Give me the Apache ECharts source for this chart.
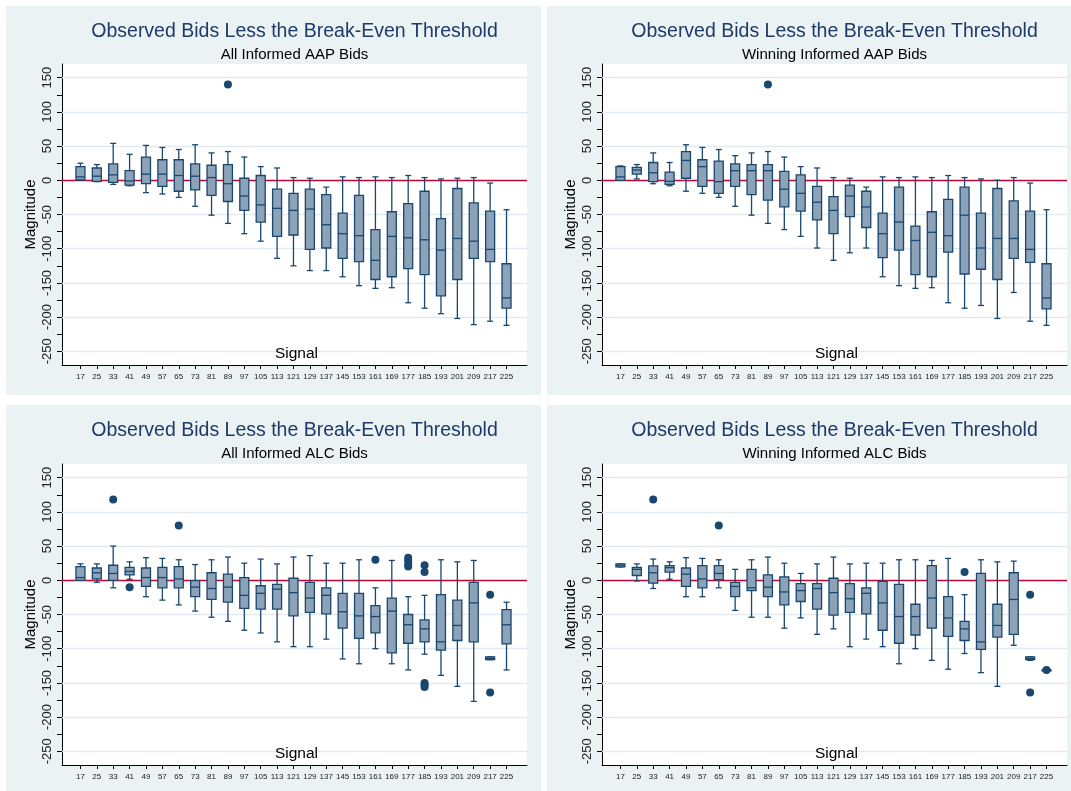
<!DOCTYPE html>
<html>
<head>
<meta charset="utf-8">
<script src="https://cdn.jsdelivr.net/npm/echarts@6/dist/echarts.min.js"></script>
<style>html,body{margin:0;padding:0;background:#fff}#c{width:1071px;height:791px}</style>
</head>
<body>
<div id="c"></div>
<script>
// ---------------- data ----------------
const signals = [17,25,33,41,49,57,65,73,81,89,97,105,113,121,129,137,145,153,161,169,177,185,193,201,209,217,225];
const yTickValues = [-250,-225,-200,-175,-150,-125,-100,-75,-50,-25,0,25,50,75,100,125,150];
const yLabelValues = [-250,-200,-150,-100,-50,0,50,100,150];
const gridValues = [-250,-200,-150,-100,-50,50,100,150];
const titleText = 'Observed Bids Less the Break-Even Threshold';
const subtitles = ['All Informed AAP Bids','Winning Informed AAP Bids','All Informed ALC Bids','Winning Informed ALC Bids'];

// Panel 1: All Informed AAP Bids
const aapAllLow  = [0,-2,-6,-8,-18,-20,-25,-38,-51,-63,-78,-89,-114,-125,-132,-132,-141,-154,-158,-157,-179,-187,-195,-202,-211,-206,-212];
const aapAllQ1   = [0.5,-1.5,-3,-7,-5,-9,-16,-14,-22,-31,-44,-61,-82,-80,-101,-99,-114,-119,-145,-141,-129,-138,-169,-145,-114,-119,-187];
const aapAllMed  = [5,6,8,-1,9,9,7,6,4,-5,-23,-36,-41,-44,-42,-65,-78,-81,-117,-82,-84,-87,-102,-85,-89,-101,-172];
const aapAllQ3   = [20,18,24,14,34,30,30,24,22,23,3,7,-13,-19,-13,-21,-48,-22,-72,-46,-34,-16,-56,-12,-33,-45,-122];
const aapAllHigh = [25,23,54,38,51,48,45,52,40,42,34,20,18,4,3,-10,5,4,5,4,7,4,2,3,4,-4,-43];
const aapAllOut  = [[89,140]];

// Panel 2: Winning Informed AAP Bids
const aapWinLow  = [0,2,-5,-8,-16,-19,-25,-38,-51,-63,-72,-82,-99,-117,-106,-99,-141,-154,-158,-157,-179,-187,-183,-202,-164,-206,-212];
const aapWinQ1   = [0,9,-2,-6,3,-9,-19,-9,-21,-29,-39,-45,-58,-78,-53,-69,-113,-102,-138,-141,-105,-137,-130,-145,-114,-120,-188];
const aapWinMed  = [5,15,11,-1.5,29,20,-2,14,14,14,-13,-19,-32,-44,-23,-39,-78,-61,-88,-76,-81,-51,-99,-85,-85,-101,-172];
const aapWinQ3   = [20,19,26,12,42,30,28,24,23,23,13,8,-9,-24,-7,-16,-48,-10,-67,-46,-28,-10,-48,-12,-30,-45,-122];
const aapWinHigh = [21,23,40,26,52,48,45,36,40,42,34,20,18,4,3,-10,5,4,5,4,7,4,2,0,4,-4,-43];
const aapWinOut  = [[89,140]];

// Panel 3: All Informed ALC Bids
const alcAllLow  = [0,-3,-11,1.5,-24,-29,-36,-45,-54,-60,-73,-77,-90,-97,-97,-86,-115,-122,-100,-122,-131,-108,-139,-155,-177,-116,-131];
const alcAllQ1   = [0,2,0,8,-9,-11,-11,-24,-28,-32,-41,-42,-42,-52,-47,-49,-70,-85,-77,-106,-92,-90,-102,-88,-90,-116,-93];
const alcAllMed  = [4,11,10,13,4,4,2,-10,-12,-10,-22,-19,-13,-18,-26,-22,-46,-52,-53,-45,-65,-71,-90,-66,-33,-114,-65];
const alcAllQ3   = [20,18,22,19,18,19,20,-0.5,11,9,4,-8,-6,3,-3,-11,-19,-19,-37,-26,-50,-58,-21,-29,-3,-112,-43];
const alcAllHigh = [24,24,50,27,33,32,30,23,30,34,25,31,24,34,36,25,25,30,-11,29,-24,-22,30,27,29,-112,-32];
const alcAllOut  = [[33,118],[41,-10],[65,80],[161,30],[177,33],[177,29],[177,24],[177,20],[185,22],[185,12],[185,-150],[185,-153],[185,-156],[217,-21],[217,-164]];

// Panel 4: Winning Informed ALC Bids
const alcWinLow  = [19.5,-1,-12,1.5,-24,-24,-11,-44,-54,-54,-70,-55,-79,-71,-97,-86,-97,-122,-100,-117,-130,-107,-135,-155,-95,-117,-131];
const alcWinQ1   = [19.5,7,-4,12,-9,-11,1,-24,-15,-24,-36,-31,-42,-51,-47,-49,-73,-92,-80,-70,-82,-88,-101,-83,-79,-116,-131];
const alcWinMed  = [22,16,11,18.5,9,2,10,-9,-11,-10,-17,-15,-12,-18,-27,-19,-33,-53,-53,-26,-55,-71,-90,-66,-28,-114,-131];
const alcWinQ3   = [24,19,21,21.5,18,21.5,21.5,-3,16,8,5,-5,-5,3,-5,-11,-1.5,-6,-35,21.5,-24,-60,10,-35,11,-112,-131];
const alcWinHigh = [24,24,31,27,33,32,30,16,30,34,25,10,24,34,24,25,25,30,30,29,32,-21,30,27,28,-112,-131];
const alcWinOut  = [[33,118],[65,80],[185,12],[217,-21],[217,-164],[225,-131]];

// ---------------- styling / layout ----------------
const NAVY = '#1a476f';
const FILL = '#8ca2b7';
const RED = '#c10534';
const GRIDC = '#e1eaee';
const PANEL_BG = '#eaf2f3';
const TITLE_C = '#1f3a68';
const FONT = '"Liberation Sans", Arial, Helvetica, sans-serif';

const panels = [
  {low:aapAllLow,q1:aapAllQ1,med:aapAllMed,q3:aapAllQ3,high:aapAllHigh,out:aapAllOut, px:6,  py:6,   pw:535, ph:389, gl:62,  gt:64},
  {low:aapWinLow,q1:aapWinQ1,med:aapWinMed,q3:aapWinQ3,high:aapWinHigh,out:aapWinOut, px:547,py:6,   pw:524, ph:389, gl:602, gt:64},
  {low:alcAllLow,q1:alcAllQ1,med:alcAllMed,q3:alcAllQ3,high:alcAllHigh,out:alcAllOut, px:6,  py:405, pw:535, ph:386, gl:62,  gt:464},
  {low:alcWinLow,q1:alcWinQ1,med:alcWinMed,q3:alcWinQ3,high:alcWinHigh,out:alcWinOut, px:547,py:405, pw:524, ph:386, gl:602, gt:464}
];
const GW = 465, GH = 301;

function renderBox(params, api) {
  const x = api.value(0);
  const lo = api.coord([x, api.value(1)]);
  const q1 = api.coord([x, api.value(2)]);
  const md = api.coord([x, api.value(3)]);
  const q3 = api.coord([x, api.value(4)]);
  const hi = api.coord([x, api.value(5)]);
  const cx = lo[0];
  const bw = 9, cw = 6, lw = 1.3;
  const ls = {stroke: NAVY, lineWidth: lw};
  return {
    type: 'group',
    children: [
      {type:'line', shape:{x1:cx,y1:hi[1],x2:cx,y2:q3[1]}, style:ls},
      {type:'line', shape:{x1:cx,y1:q1[1],x2:cx,y2:lo[1]}, style:ls},
      {type:'line', shape:{x1:cx-cw/2,y1:hi[1],x2:cx+cw/2,y2:hi[1]}, style:ls},
      {type:'line', shape:{x1:cx-cw/2,y1:lo[1],x2:cx+cw/2,y2:lo[1]}, style:ls},
      {type:'rect', shape:{x:cx-bw/2,y:q3[1],width:bw,height:Math.max(q1[1]-q3[1],1)}, style:{fill:FILL,stroke:NAVY,lineWidth:lw}},
      {type:'line', shape:{x1:cx-bw/2,y1:md[1],x2:cx+bw/2,y2:md[1]}, style:ls}
    ]
  };
}

const grids = [], xAxes = [], yAxes = [], series = [], graphics = [];
panels.forEach((p, i) => {
  graphics.push({type:'rect', z:-10, shape:{x:p.px,y:p.py,width:p.pw,height:p.ph}, style:{fill:PANEL_BG}});
  const cx = p.gl + GW / 2;
  graphics.push({type:'text', x:cx, y:p.py+25.5, style:{text:titleText, fill:TITLE_C, font:'19.5px ' + FONT, textAlign:'center', textVerticalAlign:'middle'}});
  graphics.push({type:'text', x:cx, y:p.py+48.5, style:{text:subtitles[i], fill:'#000', font:'15px ' + FONT, textAlign:'center', textVerticalAlign:'middle'}});
  graphics.push({type:'text', z:10, x:cx + 2, y:p.gt + 289.5, style:{text:'Signal', fill:'#000', font:'15.5px ' + FONT, textAlign:'center', textVerticalAlign:'middle'}});
  grids.push({left:p.gl, top:p.gt, width:GW, height:GH, show:true, backgroundColor:'#ffffff', borderWidth:0});
  xAxes.push({
    type:'value', gridIndex:i, min:8, max:235,
    axisLine:{show:true, onZero:false, lineStyle:{color:'#000', width:1}},
    axisTick:{show:true, length:4, customValues:signals, lineStyle:{color:'#000'}},
    axisLabel:{show:true, customValues:signals, fontSize:8, color:'#222', margin:7.5, fontFamily:FONT},
    splitLine:{show:false}
  });
  yAxes.push({
    type:'value', gridIndex:i, min:-270, max:170,
    name:'Magnitude', nameLocation:'middle', nameGap:24,
    nameTextStyle:{color:'#000', fontSize:15, fontFamily:FONT},
    axisLine:{show:true, onZero:false, lineStyle:{color:'#000', width:1}},
    axisTick:{show:true, length:5, customValues:yTickValues, lineStyle:{color:'#000'}},
    axisLabel:{show:true, customValues:yLabelValues, rotate:90, fontSize:13, color:'#222', margin:8, fontFamily:FONT},
    splitLine:{show:false}
  });
  const boxData = signals.map((s, k) => [s, p.low[k], p.q1[k], p.med[k], p.q3[k], p.high[k]]);
  series.push({
    type:'custom', xAxisIndex:i, yAxisIndex:i, z:3,
    renderItem: renderBox,
    encode:{x:0, y:[1,2,3,4,5]},
    data: boxData, animation:false, silent:true
  });
  series.push({
    type:'scatter', xAxisIndex:i, yAxisIndex:i, z:4,
    symbol:'circle', symbolSize:8, itemStyle:{color:NAVY, opacity:1},
    data: p.out, animation:false, silent:true,
    markLine:{
      z:1, silent:true, symbol:['none','none'], animation:false,
      label:{show:false},
      data: gridValues.map(v => ({yAxis:v, lineStyle:{color:GRIDC, width:1.3, type:'solid'}}))
            .concat([{yAxis:0, lineStyle:{color:RED, width:1.3, type:'solid'}}])
    }
  });
});

const chart = echarts.init(document.getElementById('c'), null, {renderer:'canvas'});
chart.setOption({
  backgroundColor:'#ffffff',
  animation:false,
  textStyle:{fontFamily:FONT},
  grid: grids, xAxis: xAxes, yAxis: yAxes, series: series,
  graphic: graphics
});
</script>
</body>
</html>
